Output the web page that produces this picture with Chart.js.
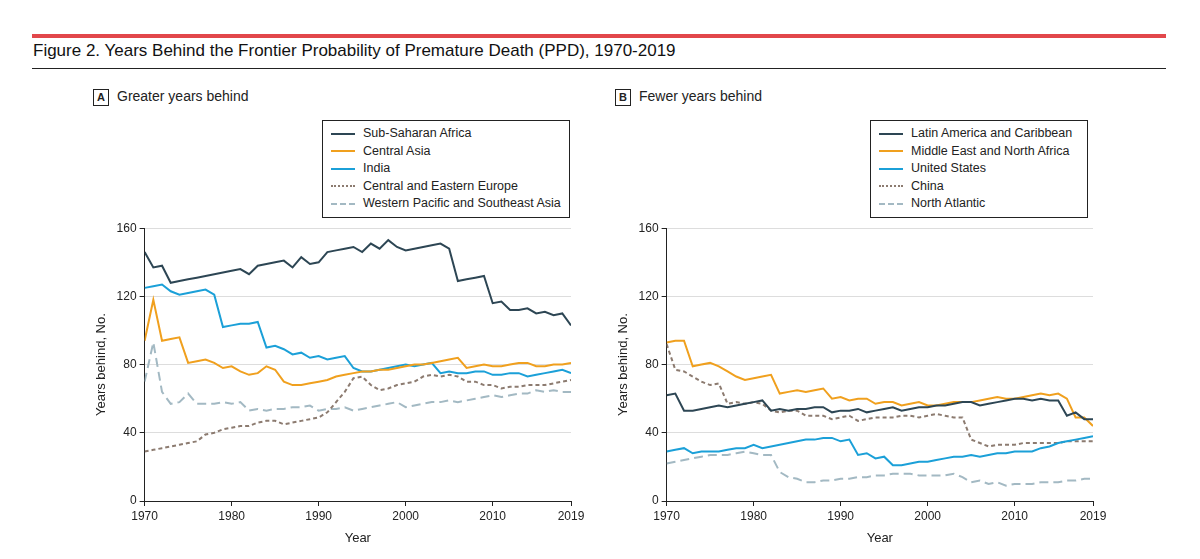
<!DOCTYPE html>
<html>
<head>
<meta charset="utf-8">
<script src="https://cdn.jsdelivr.net/npm/chart.js@4"></script>
<style>
body { margin:0; width:1200px; height:559px; background:#fff; font-family:"Liberation Sans", Arial, sans-serif; position:relative; overflow:hidden; }
#topbar { position:absolute; left:32px; top:34px; width:1134px; height:4px; background:#e2474b; }
#title { position:absolute; left:33px; top:41px; font-size:17px; color:#111; }
#rule { position:absolute; left:32px; top:68px; width:1134px; height:1px; background:#222; }
.plab { position:absolute; top:88px; font-size:14px; color:#222; }
.plab span { display:inline-block; border:1px solid #222; width:14px; height:15px; line-height:15px; text-align:center; font-size:11px; font-weight:bold; margin-right:8px; }
.legend { position:absolute; border:1px solid #222; padding:4px 8px 4px 8px; font-size:12.5px; color:#222; }
.legend div { height:17.5px; line-height:17.5px; white-space:nowrap; }
.legend i { display:inline-block; width:24px; height:0; vertical-align:middle; margin-right:8px; }
canvas { position:absolute; }
</style>
</head>
<body>
<div id="topbar"></div>
<div id="title">Figure 2. Years Behind the Frontier Probability of Premature Death (PPD), 1970-2019</div>
<div id="rule"></div>
<div class="plab" style="left:93px"><span>A</span>Greater years behind</div>
<div class="plab" style="left:615px"><span>B</span>Fewer years behind</div>
<div class="legend" id="legA" style="left:322px; top:120px; width:230px"></div>
<div class="legend" id="legB" style="left:870px; top:120px; width:200px"></div>
<div style="position:absolute;left:90px;top:218px;width:520px;height:332px"><canvas id="chartA"></canvas></div>
<div style="position:absolute;left:612px;top:218px;width:520px;height:332px"><canvas id="chartB"></canvas></div>
<script>
const years = [];
for (let y = 1970; y <= 2019; y++) years.push(y);
const xTicks = [1970, 1980, 1990, 2000, 2010, 2019];

const subSaharanAfrica = [146,137,138,128,129,130,131,132,133,134,135,136,133,138,139,140,141,137,143,139,140,146,147,148,149,146,151,148,153,149,147,148,149,150,151,148,129,130,131,132,116,117,112,112,113,110,111,109,110,103];
const centralAsia = [94,118,94,95,96,81,82,83,81,78,79,76,74,75,79,77,70,68,68,69,70,71,73,74,75,76,76,77,77,78,79,80,80,81,82,83,84,78,79,80,79,79,80,81,81,79,79,80,80,81];
const india = [125,126,127,123,121,122,123,124,121,102,103,104,104,105,90,91,89,86,87,84,85,83,84,85,78,76,76,77,78,79,80,79,80,81,75,76,75,75,76,76,74,74,75,75,73,74,75,76,77,75];
const centralEasternEurope = [29,30,31,32,33,34,35,39,40,42,43,44,44,46,47,47,45,46,47,48,49,52,58,64,72,73,68,65,66,68,69,70,73,74,73,74,73,70,70,68,68,66,67,67,68,68,68,69,70,71];
const westernPacific = [70,93,64,57,58,63,57,57,57,58,57,58,53,54,53,54,54,55,55,56,53,54,54,55,53,54,55,56,57,58,55,56,57,58,58,59,58,59,60,61,62,61,62,63,63,65,64,65,64,64];

const latinAmerica = [62,63,53,53,54,55,56,55,56,57,58,59,53,54,53,54,54,55,55,52,53,53,54,52,53,54,55,53,54,55,55,56,56,57,58,58,56,57,58,59,60,60,59,60,59,59,50,52,48,48];
const middleEast = [93,94,94,79,80,81,79,76,73,71,72,73,74,63,64,65,64,65,66,60,61,59,60,60,57,58,58,56,57,58,56,56,57,58,58,58,59,60,61,60,60,61,62,63,62,63,60,49,49,44];
const unitedStates = [29,30,31,28,29,29,29,30,31,31,33,31,32,33,34,35,36,36,37,37,35,36,27,28,25,26,21,21,22,23,23,24,25,26,26,27,26,27,28,28,29,29,29,31,32,34,35,36,37,38];
const china = [92,77,76,73,70,68,69,57,58,57,58,57,53,52,53,53,50,50,50,48,49,50,47,48,49,49,49,50,50,49,50,51,50,49,49,36,34,32,33,33,33,34,34,34,34,34,35,35,35,35];
const northAtlantic = [22,23,24,25,26,27,27,27,28,29,28,27,27,17,14,13,11,11,12,12,13,13,14,14,15,15,16,16,16,15,15,15,15,16,14,11,12,10,11,9,10,10,10,11,11,11,12,12,13,13];

const C_DARK = '#2d4654', C_ORANGE = '#f0a01e', C_BLUE = '#1ba0d8', C_BROWN = '#8c7b70', C_GREY = '#a3b9c3';
const styles = [
  {color: C_DARK, dash: []},
  {color: C_ORANGE, dash: []},
  {color: C_BLUE, dash: []},
  {color: C_BROWN, dash: [4, 3]},
  {color: C_GREY, dash: [9, 5]}
];

function makeLegend(id, names) {
  const el = document.getElementById(id);
  names.forEach((n, i) => {
    const s = styles[i];
    const border = s.dash.length === 0 ? 'solid' : (s.dash[0] < 6 ? 'dotted' : 'dashed');
    el.innerHTML += `<div><i style="border-top:2px ${border} ${s.color}"></i>${n}</div>`;
  });
}

function makeChart(id, names, series) {
  const datasets = series.map((data, i) => ({
    label: names[i],
    data: data.map((v, j) => ({x: years[j], y: v})),
    borderColor: styles[i].color,
    borderDash: styles[i].dash,
    borderWidth: 2,
    pointRadius: 0,
    tension: 0,
    fill: false
  }));
  new Chart(document.getElementById(id), {
    type: 'line',
    data: {datasets},
    options: {
      responsive: true,
      maintainAspectRatio: false,
      animation: false,
      layout: {padding: {right: 39, top: 4}},
      plugins: {legend: {display: false}, tooltip: {enabled: false}},
      scales: {
        x: {
          type: 'linear', min: 1970, max: 2019,
          afterBuildTicks: axis => { axis.ticks = xTicks.map(v => ({value: v})); },
          grid: {display: true, drawOnChartArea: false, drawTicks: true, tickLength: 5, color: '#222'},
          border: {color: '#222', width: 1},
          ticks: {color: '#222', font: {size: 12}, maxRotation: 0, callback: v => v},
          title: {display: true, text: 'Year', color: '#222', font: {size: 13}}
        },
        y: {
          min: 0, max: 160,
          ticks: {stepSize: 40, color: '#222', font: {size: 12}},
          grid: {color: '#dddddd', tickLength: 5, tickColor: '#222'},
          border: {color: '#222', width: 1},
          title: {display: true, text: 'Years behind, No.', color: '#222', font: {size: 13}}
        }
      }
    }
  });
}

const namesA = ['Sub-Saharan Africa', 'Central Asia', 'India', 'Central and Eastern Europe', 'Western Pacific and Southeast Asia'];
const namesB = ['Latin America and Caribbean', 'Middle East and North Africa', 'United States', 'China', 'North Atlantic'];
makeLegend('legA', namesA);
makeLegend('legB', namesB);
makeChart('chartA', namesA, [subSaharanAfrica, centralAsia, india, centralEasternEurope, westernPacific]);
makeChart('chartB', namesB, [latinAmerica, middleEast, unitedStates, china, northAtlantic]);
</script>
</body>
</html>
